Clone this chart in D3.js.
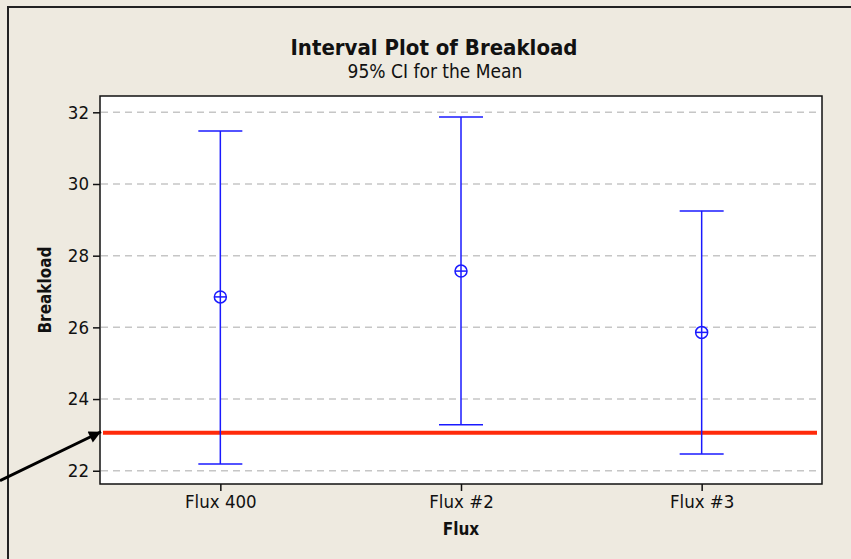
<!DOCTYPE html>
<html lang="en">
<head>
  <meta charset="UTF-8">
  <title>Interval Plot of Breakload</title>
  <script src="https://d3js.org/d3.v7.min.js"></script>
  <style>
    body {
      margin: 0;
      background: #fff;
    }
    text {
      font-family: "DejaVu Sans Condensed", "DejaVu Sans", sans-serif;
      fill: #111;
    }
    .title {
      font-weight: bold;
      font-size: 22px;
    }
    .subtitle {
      font-size: 19px;
    }
    .tick text {
      font-size: 18.5px;
      font-family: "DejaVu Sans Condensed", "DejaVu Sans", sans-serif;
    }
    .axis-label {
      font-weight: bold;
      font-size: 17px;
    }
  </style>
</head>
<body>
  <div id="chart"></div>

  <script>
    // data
    const groups = ["Flux 400", "Flux #2", "Flux #3"];
    const lower = [22.19, 23.28, 22.47];
    const means = [26.85, 27.57, 25.86];
    const upper = [31.48, 31.87, 29.25];
    const yTicks = [22, 24, 26, 28, 30, 32];
    const refValue = 23.06;

    const W = 851, H = 559;
    const margin = {top: 96, right: 29, bottom: 75, left: 100};
    const width = W - margin.left - margin.right,
          height = H - margin.top - margin.bottom;

    const root = d3.select("#chart")
      .append("svg")
      .attr("width", W)
      .attr("height", H);

    // beige page + frame
    root.append("rect")
      .attr("width", W).attr("height", H)
      .attr("fill", "#eeeae0");
    root.append("path")
      .attr("d", `M8,${H} L8,7 L${W},7`)
      .attr("fill", "none")
      .attr("stroke", "#222")
      .attr("stroke-width", 2);

    root.append("text")
      .attr("class", "title")
      .attr("x", 434).attr("y", 55)
      .attr("text-anchor", "middle")
      .text("Interval Plot of Breakload");
    root.append("text")
      .attr("class", "subtitle")
      .attr("x", 435).attr("y", 78)
      .attr("text-anchor", "middle")
      .text("95% CI for the Mean");

    const svg = root.append("g")
      .attr("transform", `translate(${margin.left},${margin.top})`);

    const x = d3.scalePoint()
      .domain(groups)
      .range([0, width])
      .padding(0.5);

    const y = d3.scaleLinear()
      .domain([21.63, 32.455])
      .range([height, 0]);

    svg.append("rect")
      .attr("width", width).attr("height", height)
      .attr("fill", "#fff");

    // dashed gridlines
    svg.append("g")
      .selectAll("line")
      .data(yTicks)
      .enter()
      .append("line")
      .attr("x1", 1).attr("x2", width - 1)
      .attr("y1", d => y(d)).attr("y2", d => y(d))
      .attr("stroke", "#c6c6c6")
      .attr("stroke-width", 1.5)
      .attr("stroke-dasharray", "7,5");

    // reference line
    svg.append("line")
      .attr("x1", 3).attr("x2", width - 5)
      .attr("y1", y(refValue)).attr("y2", y(refValue))
      .attr("stroke", "#ff2a0a")
      .attr("stroke-width", 4);

    const data = groups.map((g, i) => ({g, lo: lower[i], m: means[i], hi: upper[i]}));
    const blue = "#1a1aff";
    const cap = 22;

    const bars = svg.selectAll(".ci")
      .data(data)
      .enter()
      .append("g")
      .attr("class", "ci")
      .attr("transform", d => `translate(${x(d.g)},0)`)
      .attr("stroke", blue)
      .attr("stroke-width", 1.5)
      .attr("fill", "none");

    bars.append("line")
      .attr("y1", d => y(d.hi)).attr("y2", d => y(d.lo));
    bars.append("line")
      .attr("x1", -cap).attr("x2", cap)
      .attr("y1", d => y(d.hi)).attr("y2", d => y(d.hi));
    bars.append("line")
      .attr("x1", -cap).attr("x2", cap)
      .attr("y1", d => y(d.lo)).attr("y2", d => y(d.lo));
    bars.append("circle")
      .attr("cy", d => y(d.m))
      .attr("r", 6);
    bars.append("line")
      .attr("x1", -6).attr("x2", 6)
      .attr("y1", d => y(d.m)).attr("y2", d => y(d.m));

    // axes
    svg.append("g")
      .attr("transform", `translate(0,${height})`)
      .call(d3.axisBottom(x).tickSize(7).tickPadding(4))
      .call(g => g.select(".domain").remove())
      .call(g => g.selectAll(".tick line").attr("stroke", "#111").attr("stroke-width", 1.5));

    svg.append("g")
      .call(d3.axisLeft(y).tickValues(yTicks).tickSize(7).tickPadding(4))
      .call(g => g.select(".domain").remove())
      .call(g => g.selectAll(".tick line").attr("stroke", "#111").attr("stroke-width", 1.5));

    svg.append("rect")
      .attr("width", width).attr("height", height)
      .attr("fill", "none")
      .attr("stroke", "#111")
      .attr("stroke-width", 1.5);

    svg.append("text")
      .attr("class", "axis-label")
      .attr("x", x("Flux #2")).attr("y", height + 51)
      .attr("text-anchor", "middle")
      .text("Flux");
    svg.append("text")
      .attr("class", "axis-label")
      .attr("transform", `translate(-49,${height / 2}) rotate(-90)`)
      .attr("text-anchor", "middle")
      .text("Breakload");

    // arrow pointing at the reference line
    root.append("defs").append("marker")
      .attr("id", "head")
      .attr("viewBox", "0 0 10 10")
      .attr("refX", 10).attr("refY", 5)
      .attr("markerWidth", 16).attr("markerHeight", 12)
      .attr("markerUnits", "userSpaceOnUse")
      .attr("orient", "auto")
      .append("path")
      .attr("d", "M0,0 L10,5 L0,10 Z")
      .attr("fill", "#000");

    const tipX = margin.left + 1, tipY = margin.top + y(refValue) - 1;
    root.append("line")
      .attr("x1", 0).attr("y1", tipY + 49)
      .attr("x2", tipX).attr("y2", tipY)
      .attr("stroke", "#000")
      .attr("stroke-width", 3)
      .attr("marker-end", "url(#head)");
  </script>
</body>
</html>
